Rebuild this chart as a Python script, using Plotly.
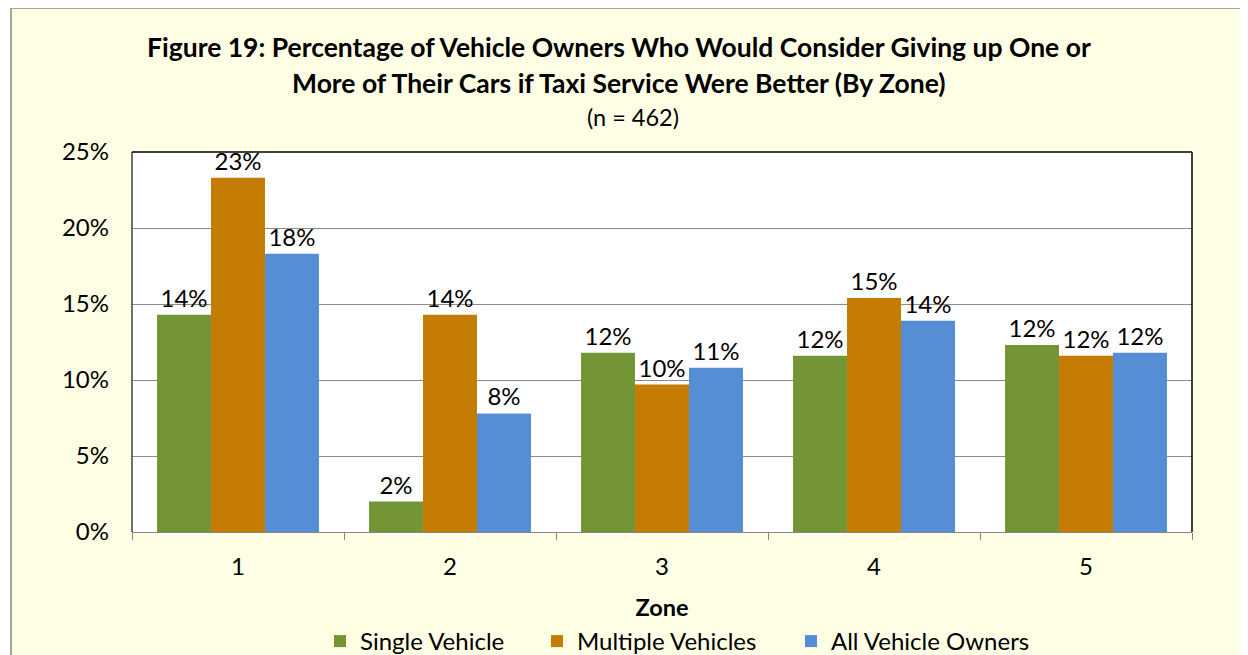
import plotly.graph_objects as go

zones = ["1", "2", "3", "4", "5"]
single_vehicle = [14.3, 2.0, 11.8, 11.6, 12.3]
multiple_vehicles = [23.3, 14.3, 9.7, 15.4, 11.6]
all_owners = [18.3, 7.8, 10.8, 13.9, 11.8]
y_ticks = [0, 5, 10, 15, 20, 25]
y_tick_labels = ["0%", "5%", "10%", "15%", "20%", "25%"]

FONT = "Lato"
series = [
    ("Single Vehicle", single_vehicle, "#739535", "legend"),
    ("Multiple Vehicles", multiple_vehicles, "#C57C03", "legend2"),
    ("All Vehicle Owners", all_owners, "#558ED5", "legend3"),
]

fig = go.Figure()
for name, vals, col, lg in series:
    fig.add_trace(go.Bar(
        x=zones, y=vals, name=name, legend=lg,
        marker=dict(color=col, line=dict(width=0)),
        text=[f"{round(v)}%" for v in vals],
        textposition="outside", cliponaxis=False,
        textfont=dict(family=FONT, size=24, color="#000000"),
    ))

# figure pixel geometry (page has an 8px body margin)
L, R, T, B = 124, 1184, 144, 524
W, H = 1240, 647
pw, ph = R - L, B - T

def px(x):
    return (x - L) / pw

def py(y):
    return (B - y) / ph

def legend_at(x):
    return dict(orientation="h", x=px(x), y=py(611), xanchor="left", yanchor="top",
                font=dict(family=FONT, size=24), bgcolor="rgba(0,0,0,0)", borderwidth=0)

fig.update_layout(
    width=W, height=H,
    margin=dict(l=L, r=W - R, t=T, b=H - B, autoexpand=False),
    paper_bgcolor="#FFFFFF", plot_bgcolor="rgba(0,0,0,0)",
    barmode="group", bargap=0.236, bargroupgap=0,
    font=dict(family=FONT, color="#000000"),
    showlegend=True,
    legend=legend_at(312),
    legend2=legend_at(529),
    legend3=legend_at(783),
    xaxis=dict(
        type="category", showgrid=False, showline=True, linecolor="#868686", linewidth=1,
        ticks="outside", ticklen=7, tickcolor="#868686", tickson="boundaries",
        tickfont=dict(family=FONT, size=24), ticklabelstandoff=13,
        title=dict(text="<b>Zone</b>", font=dict(family=FONT, size=23.5), standoff=20),
        fixedrange=True,
    ),
    yaxis=dict(
        range=[0, 25], tickvals=y_ticks, ticktext=y_tick_labels,
        showgrid=True, gridcolor="#8C8C8C", gridwidth=1.3,
        showline=False, zeroline=False, ticks="",
        tickfont=dict(family=FONT, size=24), ticklabelstandoff=22,
        fixedrange=True,
    ),
    shapes=[
        dict(type="rect", xref="paper", yref="paper", x0=px(3), x1=px(1300), y0=py(0), y1=py(700),
             fillcolor="#FFFFE5", line=dict(color="#8A8A8A", width=1.5), layer="below"),
        dict(type="rect", xref="paper", yref="paper", x0=0, x1=1, y0=0, y1=1,
             fillcolor="#FFFFFF", line=dict(width=0), layer="below"),
        dict(type="line", xref="paper", yref="paper", x0=0, x1=0, y0=0, y1=1,
             line=dict(color="#404040", width=1.5)),
        dict(type="line", xref="paper", yref="paper", x0=0, x1=1, y0=1, y1=1,
             line=dict(color="#000000", width=1.5)),
        dict(type="line", xref="paper", yref="paper", x0=1, x1=1, y0=0, y1=1,
             line=dict(color="#000000", width=1.5)),
    ],
    annotations=[
        dict(text="<b>Figure 19: Percentage of Vehicle Owners Who Would Consider Giving up One or</b>",
             xref="paper", yref="paper", x=px(611), y=py(39), xanchor="center", yanchor="middle",
             showarrow=False, font=dict(family=FONT, size=26.5)),
        dict(text="<b>More of Their Cars if Taxi Service Were Better (By Zone)</b>",
             xref="paper", yref="paper", x=px(611), y=py(75), xanchor="center", yanchor="middle",
             showarrow=False, font=dict(family=FONT, size=26.5)),
        dict(text="(n = 462)",
             xref="paper", yref="paper", x=px(625), y=py(109), xanchor="center", yanchor="middle",
             showarrow=False, font=dict(family=FONT, size=23.5)),
    ],
)

fig.write_html("out.html")
